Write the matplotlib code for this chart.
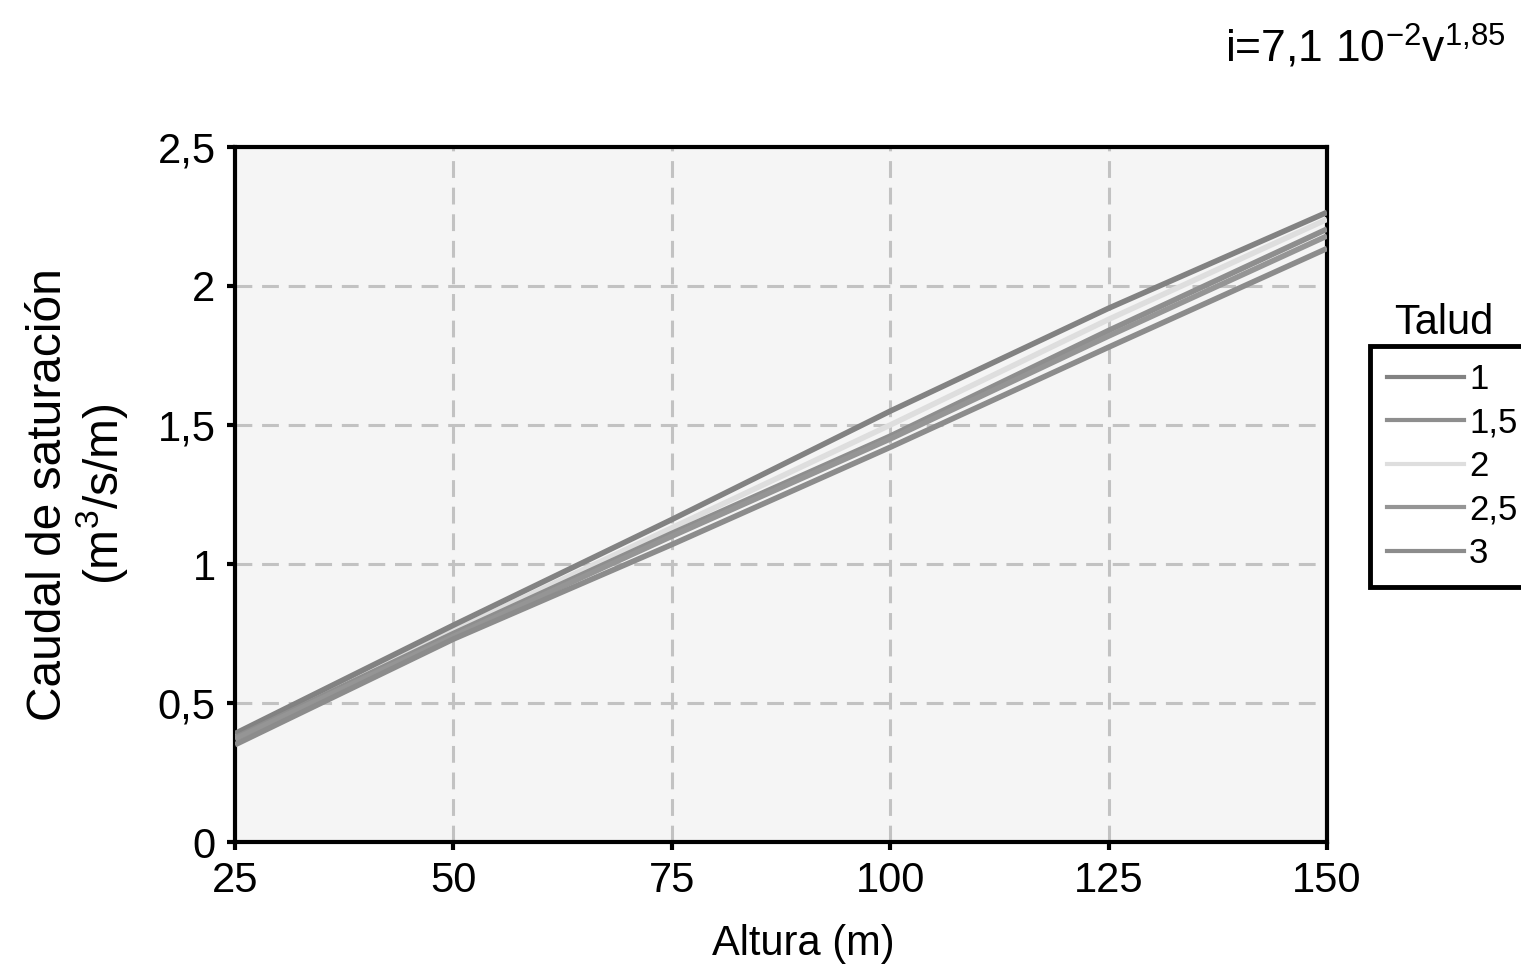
import matplotlib
matplotlib.use("Agg")
import matplotlib.pyplot as plt
from matplotlib.lines import Line2D

plt.rcParams['font.family'] = ['Liberation Sans', 'DejaVu Sans']
plt.rcParams['mathtext.fontset'] = 'custom'
plt.rcParams['mathtext.rm'] = 'Liberation Sans'
plt.rcParams['mathtext.it'] = 'Liberation Sans:italic'
plt.rcParams['mathtext.default'] = 'regular'

# Data
altura = [25, 50, 75, 100, 125, 150]
talud_labels = ['1', '1,5', '2', '2,5', '3']
caudal = {
    '1':   [0.39, 0.78, 1.16, 1.55, 1.92, 2.265],
    '1,5': [0.375, 0.75, 1.11, 1.46, 1.84, 2.205],
    '2':   [0.38, 0.76, 1.13, 1.50, 1.88, 2.24],
    '2,5': [0.37, 0.74, 1.10, 1.45, 1.82, 2.18],
    '3':   [0.35, 0.73, 1.07, 1.42, 1.78, 2.135],
}
colors = {'1': '#828282', '1,5': '#8e8e8e', '2': '#dedede', '2,5': '#959595', '3': '#8c8c8c'}
xticks = [25, 50, 75, 100, 125, 150]
yticks = [0, 0.5, 1, 1.5, 2, 2.5]
yticklabels = ['0', '0,5', '1', '1,5', '2', '2,5']

fig = plt.figure(figsize=(15.21, 9.72), dpi=100)
ax = fig.add_axes([0.1545, 0.1337, 0.7180, 0.7151])
ax.set_facecolor('#f5f5f5')

order = ['2', '1', '1,5', '2,5', '3']
for lab in order:
    ax.plot(altura, caudal[lab], color=colors[lab], lw=4.0, solid_capstyle='butt', zorder=3)

ax.set_xlim(25, 150)
ax.set_ylim(0, 2.5)
ax.set_xticks(xticks)
ax.set_xticklabels([str(v) for v in xticks])
ax.set_yticks(yticks)
ax.set_yticklabels(yticklabels)

ax.grid(True, color='#c2c2c2', lw=2.2, dashes=(5.5, 3.2), zorder=1)
for s in ax.spines.values():
    s.set_linewidth(3)
    s.set_color('black')
ax.tick_params(axis='both', direction='out', length=6, width=3, labelsize=30, pad=8, color='black')

ax.set_xlabel('Altura (m)', fontsize=30)
ax.xaxis.set_label_coords(0.52, -0.118)
ax.set_ylabel('Caudal de saturación\n(m$^{3}$/s/m)', fontsize=34.5, labelpad=20, linespacing=1.05)

fig.text(0.990, 0.936, 'i=7,1 10$^{-2}$v$^{1{,}85}$', fontsize=32, ha='right', va='baseline')

handles = [Line2D([0], [0], color=colors[l], lw=3) for l in talud_labels]
leg = fig.legend(handles, talud_labels, loc='center left', bbox_to_anchor=(0.9007, 0.52),
                 fontsize=25, frameon=True, fancybox=False, edgecolor='black', framealpha=1,
                 handlelength=2.2, handletextpad=0.15, labelspacing=0.3, borderpad=0.5,
                 borderaxespad=0)
leg.get_frame().set_linewidth(3.5)
fig.text(0.949, 0.668, 'Talud', fontsize=30, ha='center', va='center')

fig.savefig('out.png', dpi=100)
